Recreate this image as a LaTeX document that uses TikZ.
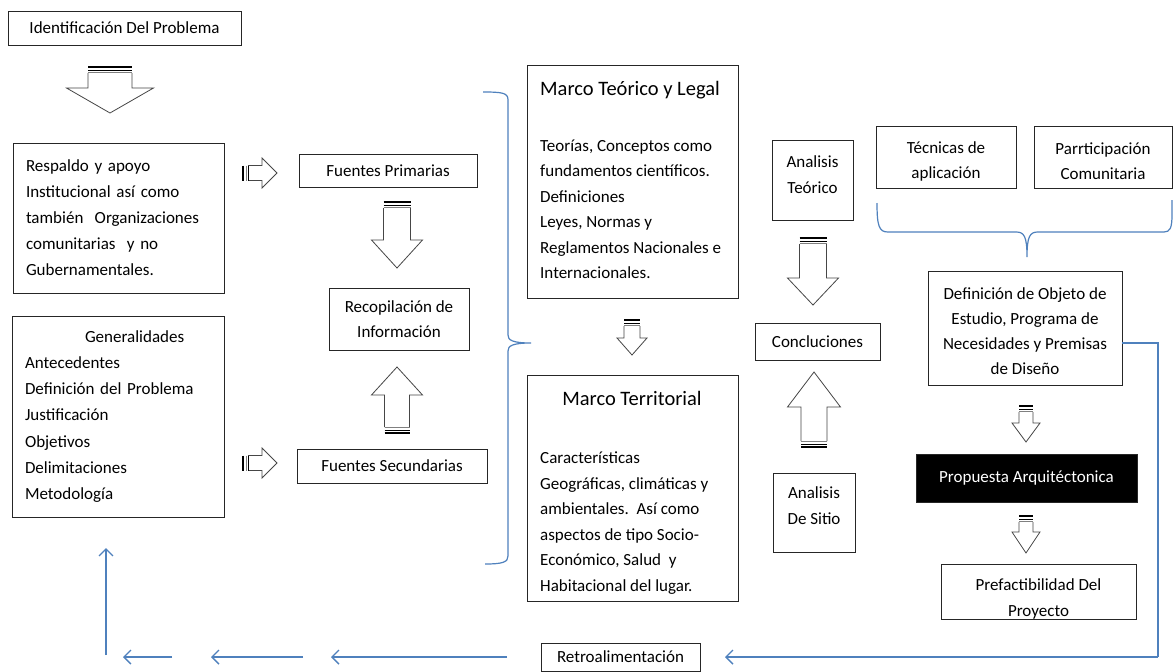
\documentclass[tikz,border=0pt]{standalone}
\usepackage{fontspec}
\setmainfont{Carlito}
\usetikzlibrary{arrows.meta}
\definecolor{fbblue}{RGB}{79,129,189}
\definecolor{arrgray}{RGB}{70,70,70}
\newcommand\boxnode[7]{\node[box,txt,minimum width={#4-#2},minimum height={#5-#3},#6] (#1) at ({(#2+#4)/2},{(#3+#5)/2}) {#7};}
% vertical block arrow: cx, ytail, half shaft, half head, yhead, ytip
\newcommand\bav[6]{%
  \pgfmathsetmacro\bs{ifthenelse(#6>#2,1,-1)}%
  \draw[barrow] ({#1-#3},{#2+\bs*6}) -- ({#1-#3},#5) -- ({#1-#4},#5) -- (#1,#6) -- ({#1+#4},#5) -- ({#1+#3},#5) -- ({#1+#3},{#2+\bs*6});
  \draw[line width=1.8pt] ({#1-#3},#2) -- ({#1+#3},#2);
  \draw[line width=0.7pt] ({#1-#3},{#2+\bs*3}) -- ({#1+#3},{#2+\bs*3});
  \draw[line width=0.9pt,gray] ({#1-#3},{#2+\bs*5.5}) -- ({#1+#3},{#2+\bs*5.5});
}
% horizontal block arrow: cy, xtail, half shaft, half head, xhead, xtip
\newcommand\bah[6]{%
  \draw[barrow] ({#2+5},{#1-#3}) -- (#5,{#1-#3}) -- (#5,{#1-#4}) -- (#6,#1) -- (#5,{#1+#4}) -- (#5,{#1+#3}) -- ({#2+5},{#1+#3});
  \draw[line width=2pt] (#2,{#1-#3}) -- (#2,{#1+#3});
  \draw[line width=0.9pt,gray] ({#2+3.5},{#1-#3}) -- ({#2+3.5},{#1+#3});
  \draw[line width=0.6pt] ({#2+5},{#1-#3}) -- ({#2+5},{#1+#3});
}
\begin{document}
\begin{tikzpicture}[x=1pt,y=-1pt,
  box/.style={draw=black!85,line width=0.9pt,inner sep=0pt},
  txt/.style={font=\fontsize{17}{25.5}\selectfont,inner sep=0pt},
  barrow/.style={draw=arrgray,line width=0.8pt,fill=white,line join=miter},
  fb/.style={draw=fbblue,line width=1.4pt},
  fbarrow/.style={fb,-{Straight Barb[length=7pt,width=14pt]}}]
\useasboundingbox (0,0) rectangle (1173,672);
\fill[white] (0,0) rectangle (1173,672);

% left column
\boxnode{ident}{8}{11}{241}{45}{}{Identificación Del Problema}
\boxnode{resp}{13}{143}{224}{293}{align=left,text width=185pt,font=\fontsize{17}{26}\selectfont}{Respaldo y apoyo\\Institucional así como\\también\ \ Organizaciones\\comunitarias\ \ y no\\Gubernamentales.}
\boxnode{gen}{12}{316}{224}{517}{align=left,text width=186pt,font=\fontsize{17}{26.3}\selectfont}{\hspace*{60pt}Generalidades\\Antecedentes\\Definición del Problema\\Justificación\\Objetivos\\Delimitaciones\\Metodología}

% sources
\boxnode{fp}{299}{154}{477}{187}{}{Fuentes Primarias}
\boxnode{rec}{329}{288}{469}{350}{align=center}{Recopilación de\\Información}
\boxnode{fs}{297}{449}{487}{483}{}{Fuentes Secundarias}

% marcos
\node[box,minimum width=211pt,minimum height=233pt,anchor=north west] (mt) at (527,65) {};
\node[txt,font=\fontsize{20.5}{24}\selectfont,anchor=base west] (mtT) at (540,95) {Marco Teórico y Legal};
\node[txt,align=left,anchor=base west] (mtB) at (540,278.5) {Teorías, Conceptos como\\fundamentos científicos.\\Definiciones\\Leyes, Normas y\\Reglamentos Nacionales e\\Internacionales.};

\node[box,minimum width=211pt,minimum height=226pt,anchor=north west] (mr) at (527,375) {};
\node[txt,font=\fontsize{20.5}{24}\selectfont,anchor=base] (mrT) at (632,405) {Marco Territorial};
\node[txt,align=left,anchor=base west] (mrB) at (540,591) {Características\\Geográficas, climáticas y\\ambientales.\ \ Así como\\aspectos de tipo Socio-\\Económico, Salud\ \ y\\Habitacional del lugar.};

% analysis column
\boxnode{at}{772}{140}{853}{220}{align=center}{Analisis\\Teórico\\[-15pt]\mbox{}}
\boxnode{conc}{755}{323}{880}{360}{}{Concluciones}
\boxnode{as}{773}{473}{855}{552}{align=center}{Analisis\\De Sitio\\[-12pt]\mbox{}}

% right column
\boxnode{tec}{876}{126}{1016}{188}{align=center}{\rule{0pt}{20.5pt}Técnicas de\\aplicación}
\boxnode{par}{1034}{126}{1172}{188}{align=center}{\rule{0pt}{20.5pt}Parrticipación\\Comunitaria}
\boxnode{def}{928}{271}{1122}{385}{align=center,font=\fontsize{17}{25}\selectfont}{\rule{0pt}{18.5pt}Definición de Objeto de\\Estudio, Programa de\\Necesidades y Premisas\\de Diseño}
\boxnode{prop}{916}{454}{1137}{502}{fill=black,text=white}{Propuesta Arquitéctonica}
\boxnode{pref}{941}{565}{1136}{619}{align=center}{\rule{0pt}{26pt}Prefactibilidad Del\\Proyecto}
\boxnode{retro}{541}{643}{700}{671}{}{Retroalimentación}

% block arrows
\bav{110}{67}{22}{43.5}{88}{113}
\bah{173}{243}{7.5}{15}{262}{277}
\bah{463}{243}{7.5}{15}{262}{277}
\bav{397}{202}{13.5}{25.5}{240}{268}
\bav{397}{433}{12.5}{25.5}{395}{367}
\bav{632}{320}{8}{15}{338}{355}
\bav{813}{238}{13.5}{25.5}{278}{305}
\bav{814}{447}{13}{26.5}{407}{372}
\bav{1026}{406}{7}{14}{423}{442}
\bav{1026}{516}{7}{14}{532}{553}

% braces
\draw[fb,line width=1.2pt] (483,92) .. controls (503,92) and (508,93) .. (508,100) -- (508,335)
  .. controls (508,340) and (512,343) .. (531,343) .. controls (512,343) and (508,346) .. (508,351)
  -- (508,556) .. controls (508,562) and (503,564) .. (485,564);
\draw[fb,line width=1.2pt] (877,203) .. controls (877,226) and (879,232) .. (888,232) -- (1016,232)
  .. controls (1024,232) and (1027,236) .. (1027,257) .. controls (1027,236) and (1030,232) .. (1038,232)
  -- (1164,232) .. controls (1170,232) and (1172,228) .. (1172,215) -- (1172,200);

% feedback loop
\coordinate (fbR) at (1158,657);
\coordinate (fbEnd) at (725,657);
\draw[fb] ([yshift=-15pt]def.east) -| (fbR);
\draw[fbarrow] (fbR) -- (fbEnd);
\coordinate (l1a) at (507,657); \coordinate (l1b) at (331,657);
\coordinate (l2a) at (303,657); \coordinate (l2b) at (211,657);
\coordinate (l3a) at (172,657); \coordinate (l3b) at (123,657);
\coordinate (v1a) at (106,655); \coordinate (v1b) at (106,548);
\draw[fbarrow] (l1a) -- (l1b);
\draw[fbarrow] (l2a) -- (l2b);
\draw[fbarrow] (l3a) -- (l3b);
\draw[fbarrow] (v1a) -- (v1b);
\end{tikzpicture}
\end{document}
